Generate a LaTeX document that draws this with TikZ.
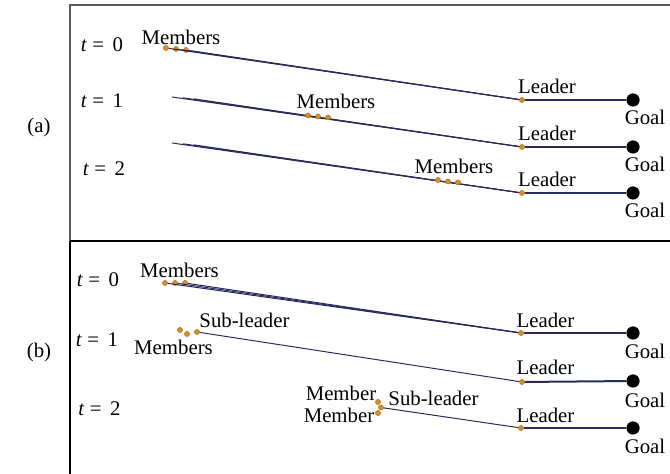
\documentclass[tikz,border=0pt]{standalone}
\usepackage{fontspec}
\setmainfont{Liberation Serif}

\definecolor{navy}{HTML}{2A2A5E}
\definecolor{amber}{HTML}{DC8C1E}

\tikzset{
  member/.style={circle,fill=amber,draw=amber!75!black,line width=0.2pt,inner sep=0pt,minimum size=2.6pt},
  goalpt/.style={circle,fill=black,inner sep=0pt,minimum size=6.6pt},
  lbl/.style={inner sep=0pt,font=\fontsize{10.4}{12}\selectfont},
  trail/.style={navy,line width=0.5pt},
  leadline/.style={navy,line width=1pt}
}

\begin{document}
\begin{tikzpicture}[x=0.5pt,y=-0.5pt]
  \useasboundingbox (0,0) rectangle (670,474);

  \draw [gray!70!black,line width=0.6pt] (670,5) -- (70,5) -- (70,241);
  \draw [black,line width=0.6pt] (70,241) -- (70,474);
  \draw [black,line width=1.1pt] (70,241) -- (670,241);

  \node [lbl] (la) at (39,128) {(a)};
  \node [lbl] (lb) at (39,353) {(b)};

  % (a) t = 0
  \node [lbl] (at0) at (102,44.5) {\textit{t} =\, 0};
  \node [member] (a0m1) at (166,48) {};
  \node [member] (a0m2) at (176,49) {};
  \node [member] (a0m3) at (186,50) {};
  \node [member] (a0l) at (522,100) {};
  \node [goalpt] (a0g) at (633,100) {};
  \draw [trail] (a0m1) -- (a0l);
  \draw [trail] (a0m2) -- (a0l);
  \draw [trail] (a0m3) -- (a0l);
  \draw [leadline] (a0l) -- (a0g);
  \node [lbl] (a0mt) at (181,37.5) {Members};
  \node [lbl] (a0lt) at (547,86) {Leader};
  \node [lbl] (a0gt) at (645,117) {Goal};

  % (a) t = 1
  \node [lbl] (at1) at (102,101) {\textit{t} =\, 1};
  \coordinate (a1s1) at (172,97);
  \coordinate (a1s2) at (183,97.8);
  \coordinate (a1s3) at (194,98.9);
  \node [member] (a1l) at (522,147) {};
  \node [goalpt] (a1g) at (633,147) {};
  \draw [trail] (a1s1) -- (a1l);
  \draw [trail] (a1s2) -- (a1l);
  \draw [trail] (a1s3) -- (a1l);
  \draw [leadline] (a1l) -- (a1g);
  \node [member] (a1m1) at (308,115.5) {};
  \node [member] (a1m2) at (318,116.5) {};
  \node [member] (a1m3) at (328,117.5) {};
  \node [lbl] (a1mt) at (336,101.5) {Members};
  \node [lbl] (a1lt) at (547,133) {Leader};
  \node [lbl] (a1gt) at (645,164) {Goal};

  % (a) t = 2
  \node [lbl] (at2) at (104,168.5) {\textit{t} =\, 2};
  \coordinate (a2s1) at (172,143);
  \coordinate (a2s2) at (183,143.8);
  \coordinate (a2s3) at (194,144.9);
  \node [member] (a2l) at (522,193) {};
  \node [goalpt] (a2g) at (633,193) {};
  \draw [trail] (a2s1) -- (a2l);
  \draw [trail] (a2s2) -- (a2l);
  \draw [trail] (a2s3) -- (a2l);
  \draw [leadline] (a2l) -- (a2g);
  \node [member] (a2m1) at (438,180) {};
  \node [member] (a2m2) at (448,181.5) {};
  \node [member] (a2m3) at (458,182.5) {};
  \node [lbl] (a2mt) at (454,166) {Members};
  \node [lbl] (a2lt) at (547,179.5) {Leader};
  \node [lbl] (a2gt) at (645,210.5) {Goal};

  % (b) t = 0
  \node [lbl] (bt0) at (98,280) {\textit{t} =\, 0};
  \node [member] (b0m1) at (165,283) {};
  \node [member] (b0m2) at (175,283) {};
  \node [member] (b0m3) at (185,283) {};
  \node [member] (b0l) at (521,333) {};
  \node [goalpt] (b0g) at (633,333) {};
  \draw [trail] (b0m1) -- (b0l);
  \draw [trail] (b0m2) -- (b0l);
  \draw [trail] (b0m3) -- (b0l);
  \draw [leadline] (b0l) -- (b0g);
  \node [lbl] (b0mt) at (179.5,270) {Members};
  \node [lbl] (b0lt) at (545.5,320) {Leader};
  \node [lbl] (b0gt) at (645,351) {Goal};

  % (b) t = 1
  \node [lbl] (bt1) at (97,340) {\textit{t} =\, 1};
  \node [member] (b1m1) at (180,330) {};
  \node [member] (b1m2) at (187,334) {};
  \node [member] (b1s) at (197,332) {};
  \node [member] (b1l) at (522,382) {};
  \node [goalpt] (b1g) at (633,381) {};
  \draw [trail] (b1s) -- (b1l);
  \draw [leadline] (b1l) -- (b1g);
  \node [lbl] (b1st) at (244.5,320) {Sub-leader};
  \node [lbl] (b1mt) at (173.5,347.5) {Members};
  \node [lbl] (b1lt) at (545.5,367.5) {Leader};
  \node [lbl] (b1gt) at (645,400) {Goal};

  % (b) t = 2
  \node [lbl] (bt2) at (99.5,408.5) {\textit{t} =\, 2};
  \node [member] (b2m1) at (378,402) {};
  \node [member] (b2s) at (381,407.5) {};
  \node [member] (b2m2) at (378,413) {};
  \node [member] (b2l) at (521,428) {};
  \node [goalpt] (b2g) at (633,428) {};
  \draw [trail] (b2s) -- (b2l);
  \draw [leadline] (b2l) -- (b2g);
  \node [lbl] (b2m1t) at (341,393) {Member};
  \node [lbl] (b2m2t) at (339,415.5) {Member};
  \node [lbl] (b2st) at (433.5,398) {Sub-leader};
  \node [lbl] (b2lt) at (545.5,415) {Leader};
  \node [lbl] (b2gt) at (645,446) {Goal};
\end{tikzpicture}
\end{document}
